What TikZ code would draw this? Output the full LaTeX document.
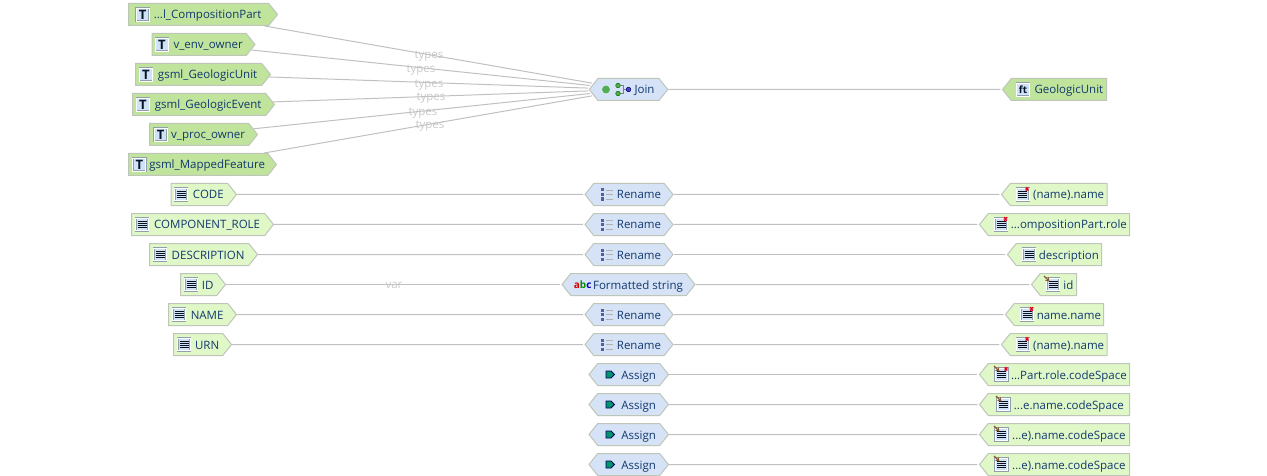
\documentclass[tikz,border=0pt]{standalone}
\usepackage{fontspec}
\setmainfont{Open Sans}
\usetikzlibrary{shapes.symbols, arrows.meta, positioning, calc}
\definecolor{wireC}{RGB}{192, 192, 192}
\definecolor{edgeC}{RGB}{190, 198, 186}
\definecolor{hintC}{RGB}{200, 200, 200}
\definecolor{inkC}{RGB}{18, 56, 110}
\definecolor{tableC}{RGB}{192, 228, 156}
\definecolor{fieldC}{RGB}{224, 248, 200}
\definecolor{opC}{RGB}{214, 227, 247}
\definecolor{iconC}{RGB}{208, 226, 246}
\tikzset{
    box/.style={signal, signal pointer angle=103, draw=edgeC, line width=1pt, inner sep=0pt, minimum height=22pt, text=inkC, text height=10pt, text depth=1pt, font=\fontsize{11.5}{13}\selectfont, execute at begin node={\hspace*{#1}}},
    source/.style={box=18pt, signal to=east, anchor=west, fill=tableC},
    column/.style={box=18pt, signal to=east, anchor=west, fill=fieldC},
    sink/.style={box=20pt, signal to=west, anchor=east, fill=fieldC},
    sinktable/.style={box=20pt, signal to=west, anchor=east, fill=tableC},
    op/.style={box=#1, signal to=east and west, fill=opC},
    op/.default=20pt,
    wire/.style={draw=wireC, line width=1pt, shorten >=1.5pt},
    hint/.style={text=hintC, font=\fontsize{11.5}{13}\selectfont, inner sep=0pt},
    letter/.style={draw=iconC!70!black, fill=iconC, line width=.5pt, double=white, double distance=.8pt, minimum size=13pt, inner sep=0pt, text=black!65!inkC},
    tableicon/.style={letter, font=\fontsize{13}{13}\selectfont\bfseries\rmfamily},
    listicon/.pic={
        \draw[draw=iconC!70!black, fill=iconC, line width=.5pt, double=white, double distance=.8pt] (-6.3,-6.3) rectangle (6.3,6.3);
        \foreach \y in {-3,-1,1,3}
            \draw[black!75!inkC, line width=1pt] (-4.5,\y) -- (4.5,\y);
    },
    redstar/.pic={
        \draw[red!90!blue, line width=.9pt] (-2.2,0) -- (2.2,0) (-1.2,-2) -- (1.2,2) (-1.2,2) -- (1.2,-2);
    },
    brownarrow/.pic={
        \draw[draw=brown!70!black, line width=1.3pt, -{Stealth[length=4pt,width=5pt]}] (-3,-3) -- (2.5,2.5);
    },
    renameicon/.pic={
        \foreach \y in {-4.5,0,4.5} {
            \fill[blue!30!gray] (-5.5,\y-1.5) rectangle (-2.5,\y+1.5);
            \draw[gray!60, line width=.9pt] (-1,\y) -- (6,\y);
        }
    },
    assignicon/.pic={
        \draw[draw=blue!40!black, fill=teal!85!green, line width=.8pt] (-4,-3.5) -- (1,-3.5) -- (4.5,0) -- (1,3.5) -- (-4,3.5) -- cycle;
    },
    joinicon/.pic={
        \draw[draw=green!40!gray, fill=green!35!gray, line width=.7pt] (-16.5,0) circle (3.5);
        \draw[gray, line width=.8pt] (-4,-4) -- (1,-4) -- (1,4) -- (-4,4) (1,0) -- (5,0);
        \draw[draw=green!45!black, fill=green!35!gray, line width=.5pt] (-4.5,-4) circle (2.3) (-4.5,4) circle (2.3);
        \draw[draw=blue!50!black, fill=blue!45!gray, line width=.5pt] (6,0) circle (2.3);
    }
}
\begin{document}
\begin{tikzpicture}[x=1pt, y=-1pt]
    \useasboundingbox (0,0) rectangle (1267,476);

    % input tables
    \node[source, minimum width=149pt] (compPart) at (128,14.5) {...l\_CompositionPart};
    \node[source, minimum width=103pt] (envOwner) at (151.5,44.5) {v\_env\_owner};
    \node[source, minimum width=135pt] (geoUnit) at (135,74.5) {gsml\_GeologicUnit};
    \node[source, minimum width=142pt] (geoEvent) at (132,104.5) {gsml\_GeologicEvent};
    \node[source, minimum width=108pt] (procOwner) at (149,134.5) {v\_proc\_owner};
    \node[source, minimum width=148pt] (mappedFeat) at (128,164.5) {gsml\_MappedFeature};

    % input columns
    \node[column, minimum width=65.5pt] (code) at (170.5,194.5) {CODE};
    \node[column, minimum width=142pt] (compRole) at (131,224.5) {COMPONENT\_ROLE};
    \node[column, minimum width=108pt] (descr) at (149,254.5) {DESCRIPTION};
    \node[column, minimum width=45pt] (idIn) at (180,284.5) {ID};
    \node[column, minimum width=68pt] (nameIn) at (168,314.5) {NAME};
    \node[column, minimum width=58pt] (urn) at (173,344.5) {URN};

    % operations
    \node[op=32pt, minimum width=78.5pt] (join) at (628.5,89.5) {Join};
    \node[op, minimum width=88pt] (ren1) at (629,194.5) {Rename};
    \node[op, minimum width=88pt] (ren2) at (629,224.5) {Rename};
    \node[op, minimum width=88pt] (ren3) at (629,254.5) {Rename};
    \node[op=19pt, minimum width=133pt] (fmt) at (628.5,284.5) {Formatted string};
    \node[op, minimum width=88pt] (ren4) at (629,314.5) {Rename};
    \node[op, minimum width=88pt] (ren5) at (629,344.5) {Rename};
    \node[op, minimum width=79.5pt] (assign1) at (628.7,374.5) {Assign};
    \node[op, minimum width=79.5pt] (assign2) at (628.7,404.5) {Assign};
    \node[op, minimum width=79.5pt] (assign3) at (628.7,434.5) {Assign};
    \node[op, minimum width=79.5pt] (assign4) at (628.7,464.5) {Assign};

    % output feature and attributes
    \node[sinktable, minimum width=104pt] (ftUnit) at (1107,89.5) {GeologicUnit};
    \node[sink, minimum width=105.5pt] (outName1) at (1107.5,194.5) {(name).name};
    \node[sink, minimum width=150pt] (outRole) at (1130,224.5) {...ompositionPart.role};
    \node[sink, minimum width=94pt] (outDescr) at (1102,254.5) {description};
    \node[sink, minimum width=45pt] (outId) at (1077,284.5) {id};
    \node[sink, minimum width=98pt] (outName2) at (1104,314.5) {name.name};
    \node[sink, minimum width=105.5pt] (outName3) at (1107.5,344.5) {(name).name};
    \node[sink, minimum width=150pt] (outSpace1) at (1130,374.5) {...Part.role.codeSpace};
    \node[sink, minimum width=150pt] (outSpace2) at (1130,404.5) {...e.name.codeSpace};
    \node[sink, minimum width=150pt] (outSpace3) at (1130,434.5) {...e).name.codeSpace};
    \node[sink, minimum width=150pt] (outSpace4) at (1130,464.5) {...e).name.codeSpace};

    % connectors
    \draw[wire] (compPart) -- (join);
    \draw[wire] (envOwner) -- (join);
    \draw[wire] (geoUnit) -- (join);
    \draw[wire] (geoEvent) -- (join);
    \draw[wire] (procOwner) -- (join);
    \draw[wire] (mappedFeat) -- (join);
    \draw[wire] (join) -- (ftUnit);
    \draw[wire] (code) -- (ren1);
    \draw[wire] (ren1) -- (outName1);
    \draw[wire] (compRole) -- (ren2);
    \draw[wire] (ren2) -- (outRole);
    \draw[wire] (descr) -- (ren3);
    \draw[wire] (ren3) -- (outDescr);
    \draw[wire] (idIn) -- (fmt);
    \draw[wire] (fmt) -- (outId);
    \draw[wire] (nameIn) -- (ren4);
    \draw[wire] (ren4) -- (outName2);
    \draw[wire] (urn) -- (ren5);
    \draw[wire] (ren5) -- (outName3);
    \draw[wire] (assign1) -- (outSpace1);
    \draw[wire] (assign2) -- (outSpace2);
    \draw[wire] (assign3) -- (outSpace3);
    \draw[wire] (assign4) -- (outSpace4);

    % connector labels
    \node[hint] (types1) at (429,56) {types};
    \node[hint] (types2) at (421,70) {types};
    \node[hint] (types3) at (429,85) {types};
    \node[hint] (types4) at (431,98) {types};
    \node[hint] (types5) at (423,113) {types};
    \node[hint] (types6) at (430,126) {types};
    \node[hint] (varLabel) at (394,285.5) {var};

    % icons
    \node[tableicon] (iconA) at ([xshift=14.7pt]compPart.west) {T};
    \node[tableicon] (iconB) at ([xshift=10.5pt]envOwner.west) {T};
    \node[tableicon] (iconC) at ([xshift=11pt]geoUnit.west) {T};
    \node[tableicon] (iconD) at ([xshift=11pt]geoEvent.west) {T};
    \node[tableicon] (iconE) at ([xshift=11.7pt]procOwner.west) {T};
    \node[tableicon] (iconF) at ([xshift=11.3pt]mappedFeat.west) {T};
    \node[tableicon, font=\fontsize{10}{10}\selectfont\bfseries] (iconFt) at (1023,89.5) {ft};
    \pic at (181,194.5) {listicon};
    \pic at (142,224.5) {listicon};
    \pic at (160,254.5) {listicon};
    \pic at (191,284.5) {listicon};
    \pic at (179,314.5) {listicon};
    \pic at (184,344.5) {listicon};
    \pic at (622.5,89.5) {joinicon};
    \pic at (606.5,194.5) {renameicon};
    \pic at (606.5,224.5) {renameicon};
    \pic at (606.5,254.5) {renameicon};
    \pic at (606.5,314.5) {renameicon};
    \pic at (606.5,344.5) {renameicon};
    \node[inner sep=0pt, font=\fontsize{10}{10}\selectfont\bfseries] (iconAbc) at (582.7,284.5) {\textcolor{red!85!black}{a}\textcolor{green!55!black}{b}\textcolor{blue!70!black}{c}};
    \pic at (610,374.5) {assignicon};
    \pic at (610,404.5) {assignicon};
    \pic at (610,434.5) {assignicon};
    \pic at (610,464.5) {assignicon};
    \pic at (1022.7,194.5) {listicon};
    \pic at (1027,189) {redstar};
    \pic at (1001,224.5) {listicon};
    \pic at (1005.5,219) {redstar};
    \pic at (1029,254.5) {listicon};
    \pic at (1053,284.5) {listicon};
    \pic at (1047,279) {brownarrow};
    \pic at (1027,314.5) {listicon};
    \pic at (1031.5,309) {redstar};
    \pic at (1022.7,344.5) {listicon};
    \pic at (1027,339) {redstar};
    \pic at (1001.5,374.5) {listicon};
    \pic at (1006,369) {redstar};
    \pic at (997,369) {brownarrow};
    \pic at (1003.5,404.5) {listicon};
    \pic at (999,399) {brownarrow};
    \pic at (1001.5,434.5) {listicon};
    \pic at (997,429) {brownarrow};
    \pic at (1001.5,464.5) {listicon};
    \pic at (997,459) {brownarrow};
\end{tikzpicture}
\end{document}
